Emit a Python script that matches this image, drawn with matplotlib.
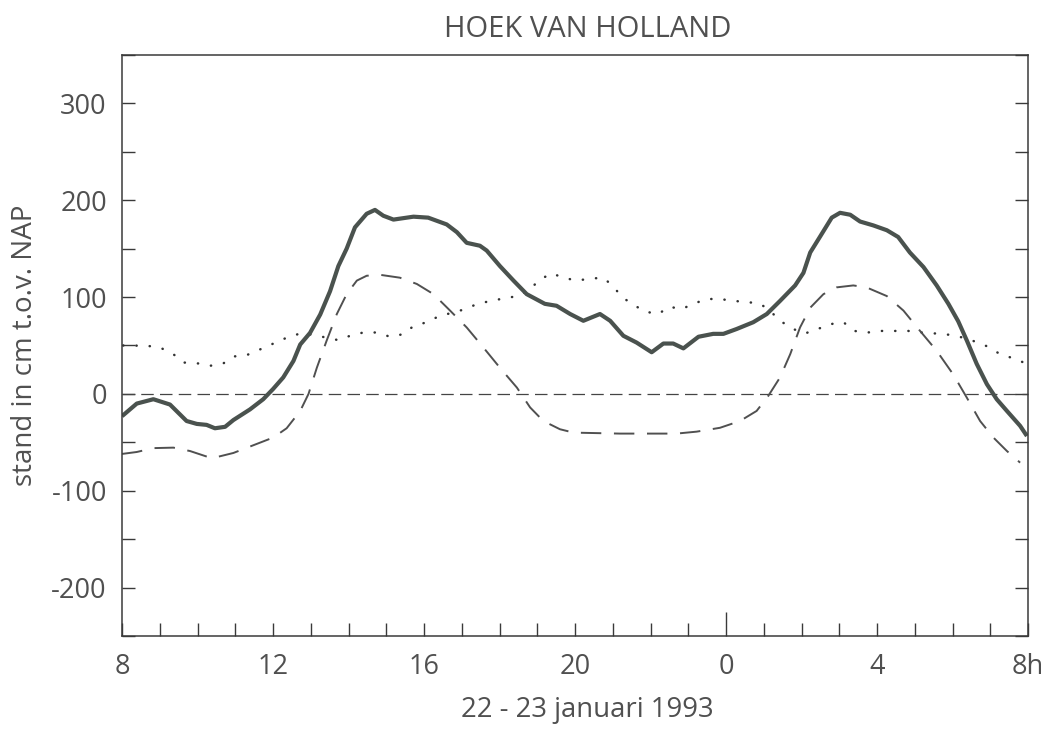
import matplotlib.pyplot as plt
from matplotlib.ticker import MultipleLocator, FixedLocator

plt.rcParams['font.family'] = ['Open Sans', 'DejaVu Sans']
plt.rcParams['axes.unicode_minus'] = False

# measured water level (solid)
hours_obs = [8.0, 8.39, 8.83, 9.27, 9.71, 9.98, 10.24, 10.46, 10.73, 10.95, 11.39, 11.74,
             12.0, 12.27, 12.54, 12.72, 12.98, 13.25, 13.51, 13.73, 13.95, 14.17, 14.48,
             14.70, 14.92, 15.19, 15.72, 16.11, 16.60, 16.87, 17.13, 17.48, 17.66, 18.01,
             18.37, 18.72, 19.2, 19.51, 19.87, 20.22, 20.66, 20.93, 21.28, 21.63, 22.03,
             22.34, 22.60, 22.87, 23.27, 23.66, 23.93, 24.28, 24.72, 25.08, 25.43, 25.83,
             26.05, 26.23, 26.50, 26.80, 27.02, 27.29, 27.55, 27.90, 28.26, 28.56, 28.87,
             29.23, 29.58, 29.89, 30.15, 30.38, 30.64, 30.91, 31.17, 31.44, 31.79, 31.97]
level_obs = [-23, -10, -5.5, -11, -28, -31, -32, -35.5, -34, -27, -16, -5.5,
             5, 17, 34, 51, 63, 82, 106, 132, 150, 172, 186,
             190, 184, 180, 183, 182, 175, 167, 156, 153, 148, 132,
             117, 103, 93, 91, 82.5, 75.5, 82.5, 75.5, 60, 53, 43,
             52, 52, 47, 59, 62, 62, 67, 74, 82.5, 96, 112,
             125, 146, 163, 182, 187, 185, 178, 174, 169, 162, 146,
             131, 112, 93, 75, 55, 31, 10, -5.5, -17.6, -33, -43.5]

# astronomical tide (dashed)
hours_astro = [8.0, 8.39, 8.83, 9.36, 9.80, 10.38, 10.95, 11.48, 12.01, 12.36, 12.72,
               12.94, 13.16, 13.42, 13.69, 13.95, 14.22, 14.48, 14.83, 15.36, 15.81,
               16.25, 16.69, 17.13, 17.57, 18.01, 18.46, 18.81, 19.16, 19.60, 19.96,
               21.19, 22.69, 23.22, 23.84, 24.37, 24.81, 25.12, 25.43, 25.70, 25.96,
               26.23, 26.58, 26.93, 27.37, 27.72, 28.26, 28.70, 29.14, 29.58, 30.02,
               30.38, 30.73, 31.08, 31.44, 31.79]
level_astro = [-62, -60, -56, -55.5, -59, -66.5, -61, -53, -45, -35.5, -17.6,
               0, 27, 55, 82.5, 103, 117, 122, 123, 120, 113.5,
               103, 86, 68.6, 48, 27, 6.5, -14, -28, -36.5, -40,
               -41, -41, -39, -35, -28, -17.6, -2, 17, 41, 68.6,
               89, 103, 110, 112, 110, 101, 86, 65, 44.5, 20,
               -4, -28, -45, -59, -71]

# surge (dotted)
hours_surge = [8.03, 8.65, 9.0, 9.36, 9.62, 9.98, 10.33, 10.68, 10.95, 11.30, 11.66, 12.01,
               12.36, 12.72, 13.07, 13.42, 13.73, 14.04, 14.39, 14.75, 15.1, 15.45, 15.72,
               16.07, 16.42, 16.78, 17.09, 17.44, 17.79, 18.15, 18.50, 18.81, 19.05, 19.38,
               19.69, 20.04, 20.40, 20.75, 21.02, 21.24, 21.55, 21.85, 22.21, 22.49, 22.83,
               23.15, 23.51, 23.84, 24.19, 24.55, 24.92, 25.21, 25.45, 25.78, 26.09, 26.43,
               26.76, 27.11, 27.40, 27.75, 28.12, 28.48, 28.83, 29.18, 29.54, 29.93, 30.29,
               30.60, 30.95, 31.26, 31.59, 31.95]
level_surge = [50, 49.7, 48, 41, 32.4, 31.7, 29, 31.4, 38.6, 40, 46, 52,
               58, 62.4, 61, 58, 55.5, 60, 63.4, 63.4, 59, 61.7, 70,
               74, 80.7, 84, 87.6, 93.4, 96, 99, 101, 108, 117.6, 124.5,
               120, 117, 119, 120, 110.7, 100, 92, 85, 82.5, 90, 87.6,
               93.4, 98, 98, 96, 95, 92.8, 84, 75, 67, 62.4, 67,
               72, 74, 65, 63.4, 65, 65, 65, 63.4, 62.4, 61, 58,
               54, 48.6, 41, 37, 31.4]

xtick_pos = [8, 12, 16, 20, 24, 28, 32]
xtick_labels = ["8", "12", "16", "20", "0", "4", "8h"]
ytick_pos = [-200, -100, 0, 100, 200, 300]

text_color = "#505050"
axis_color = "#3a3a3a"

fig = plt.figure(figsize=(10.53, 7.29), dpi=100)
ax = fig.add_axes([0.1159, 0.1276, 0.8604, 0.797])

ax.axhline(0, color="#444444", lw=0.9, linestyle=(0, (10, 5)))
ax.plot(hours_surge, level_surge, color="#333333", lw=1.8,
        linestyle=(0, (0.1, 5.2)), dash_capstyle="round")
ax.plot(hours_astro, level_astro, color="#505050", lw=1.4,
        linestyle=(0, (10.5, 6.5)))
ax.plot(hours_obs, level_obs, color="#4a524e", lw=3.0, solid_capstyle="butt")

ax.set_xlim(8, 32)
ax.set_ylim(-250, 350)

ax.xaxis.set_major_locator(FixedLocator(xtick_pos))
ax.set_xticklabels(xtick_labels)
ax.xaxis.set_minor_locator(MultipleLocator(1))
ax.yaxis.set_major_locator(FixedLocator(ytick_pos))
ax.yaxis.set_minor_locator(MultipleLocator(50))

ax.tick_params(axis="x", which="both", direction="in", length=9.5, width=1.0,
               color=axis_color, labelsize=19.5, labelcolor=text_color, pad=12)
ax.tick_params(axis="y", which="both", direction="in", length=9.5, width=1.0,
               color=axis_color, labelsize=19.5, labelcolor=text_color, pad=11,
               right=True)
# longer tick at midnight
ax.xaxis.get_major_ticks()[4].tick1line.set_markersize(17)

for s in ax.spines.values():
    s.set_color(axis_color)
    s.set_linewidth(1.1)

ax.set_ylabel("stand in cm t.o.v. NAP", fontsize=20, color=text_color)
ax.yaxis.set_label_coords(-0.092, 0.5)
ax.set_xlabel("22 - 23 januari 1993", fontsize=19.8, color=text_color)
ax.xaxis.set_label_coords(0.514, -0.103)
ax.set_title("HOEK VAN HOLLAND", fontsize=21, color=text_color, x=0.514, pad=13)

fig.savefig("out.png", dpi=100)
